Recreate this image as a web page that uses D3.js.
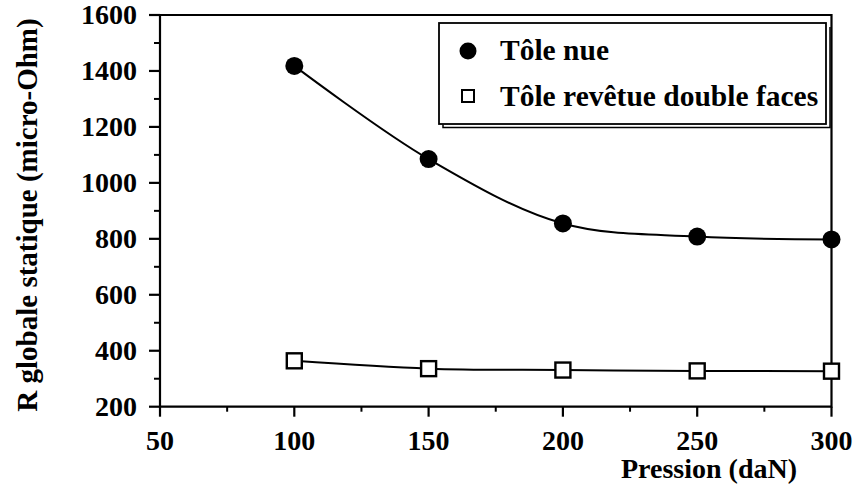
<!DOCTYPE html>
<html><head><meta charset="utf-8">
<script src="https://cdn.jsdelivr.net/npm/d3@7"></script>
<style>body{margin:0;background:#fff}svg{display:block}</style>
</head><body>
<svg id="c" width="854" height="486"></svg>
<script>
const pressures = [100, 150, 200, 250, 300];
const toleNue = [1418, 1085, 855, 808, 798];
const toleRevetue = [364, 336, 331, 328, 327];
const xTicks = [50, 100, 150, 200, 250, 300];
const yTicks = [200, 400, 600, 800, 1000, 1200, 1400, 1600];
const seriesNames = ["Tôle nue", "Tôle revêtue double faces"];
const xTitle = "Pression (daN)";
const yTitle = "R globale statique (micro-Ohm)";

const FONT = "'Liberation Serif', 'Times New Roman', 'DejaVu Serif', serif";
const svg = d3.select("#c").attr("font-family", FONT).attr("font-weight", "bold");
const fs = 28, fsTitle = 29, fsLegend = 29.5;

const L = 160, R = 831.5, T = 15, B = 406.7;
const x = d3.scaleLinear().domain([50, 300]).range([L, R]);
const y = d3.scaleLinear().domain([200, 1600]).range([B, T]);

const xMinor = d3.range(75, 300, 50);
const yMinor = d3.range(300, 1600, 200);

const g = svg.append("g");
g.append("path").attr("d", `M${L},${B}H${R}V${T}H${L}Z`).attr("fill","none").attr("stroke","#000").attr("stroke-width",2.2);

g.selectAll(".xt").data(xTicks).join("line").attr("x1", d=>x(d)).attr("x2", d=>x(d)).attr("y1", B).attr("y2", B+10).attr("stroke","#000").attr("stroke-width",2.2);
g.selectAll(".xm").data(xMinor).join("line").attr("x1", d=>x(d)).attr("x2", d=>x(d)).attr("y1", B).attr("y2", B+5).attr("stroke","#000").attr("stroke-width",2);
g.selectAll(".xl").data(xTicks).join("text").attr("x", d=>x(d)).attr("y", 450).attr("text-anchor","middle").attr("font-size",fs).text(d=>d);

g.selectAll(".yt").data(yTicks).join("line").attr("x1", L-11).attr("x2", L).attr("y1", d=>y(d)).attr("y2", d=>y(d)).attr("stroke","#000").attr("stroke-width",2.2);
g.selectAll(".ym").data(yMinor).join("line").attr("x1", L-6).attr("x2", L).attr("y1", d=>y(d)).attr("y2", d=>y(d)).attr("stroke","#000").attr("stroke-width",2);
g.selectAll(".yl").data(yTicks).join("text").attr("x", 137).attr("y", d=>y(d)).attr("dy","0.33em").attr("text-anchor","end").attr("font-size",fs).text(d=>d);

g.append("text").attr("x", 709).attr("y", 478).attr("text-anchor","middle").attr("font-size",fs).text(xTitle);
g.append("text").attr("transform","translate(37,215) rotate(-90)").attr("text-anchor","middle").attr("font-size",fsTitle).text(yTitle);

const line = d3.line().x(d=>x(d[0])).y(d=>y(d[1])).curve(d3.curveCatmullRom.alpha(0.5));
const nueData = pressures.map((p,i)=>[p, toleNue[i]]);
const revData = pressures.map((p,i)=>[p, toleRevetue[i]]);
g.append("path").attr("d", line(nueData)).attr("fill","none").attr("stroke","#000").attr("stroke-width",2);
g.append("path").attr("d", line(revData)).attr("fill","none").attr("stroke","#000").attr("stroke-width",2);

g.selectAll(".c").data(nueData).join("circle").attr("cx", d=>x(d[0])).attr("cy", d=>y(d[1])).attr("r", 9).attr("fill","#000");
const s = 15;
g.selectAll(".s").data(revData).join("rect").attr("x", d=>x(d[0])-s/2).attr("y", d=>y(d[1])-s/2).attr("width", s).attr("height", s).attr("fill","#fff").attr("stroke","#000").attr("stroke-width",2.4);

const lg = svg.append("g");
lg.append("path").attr("d","M443,124.5V127.5H830V27").attr("fill","none").attr("stroke","#000").attr("stroke-width",1.5);
lg.append("rect").attr("x",439).attr("y",23).attr("width",387).attr("height",101).attr("fill","#fff").attr("stroke","#000").attr("stroke-width",1.8);
lg.append("circle").attr("cx",468).attr("cy",51).attr("r",8.5).attr("fill","#000");
lg.append("rect").attr("x",462).attr("y",90).attr("width",12).attr("height",12).attr("fill","#fff").attr("stroke","#000").attr("stroke-width",2);
lg.append("text").attr("x",500).attr("y",60).attr("font-size",fsLegend).text(seriesNames[0]);
lg.append("text").attr("x",500).attr("y",106).attr("font-size",fsLegend).text(seriesNames[1]);
</script>
</body></html>
